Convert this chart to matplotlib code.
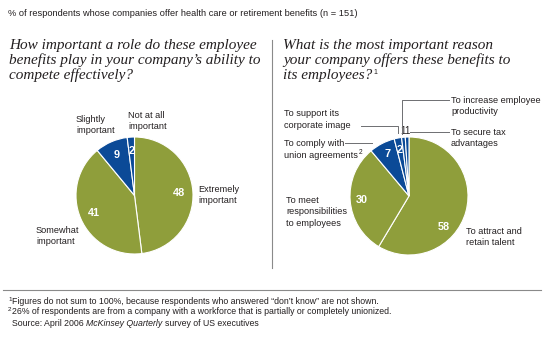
import matplotlib
matplotlib.use('Agg')
import matplotlib.pyplot as plt
import numpy as np

# ---------------- data ----------------
header = "% of respondents whose companies offer health care or retirement benefits (n = 151)"
q1_title = ["How important a role do these employee",
            "benefits play in your company\u2019s ability to",
            "compete effectively?"]
q1_labels = ["Extremely\nimportant", "Somewhat\nimportant", "Slightly\nimportant", "Not at all\nimportant"]
q1_values = [48, 41, 9, 2]

q2_title = ["What is the most important reason",
            "your company offers these benefits to",
            "its employees?"]
q2_labels = ["To attract and\nretain talent", "To meet\nresponsibilities\nto employees",
             "To comply with\nunion agreements", "To support its\ncorporate image",
             "To increase employee\nproductivity", "To secure tax\nadvantages"]
q2_values = [58, 30, 7, 2, 1, 1]

footnote1 = "Figures do not sum to 100%, because respondents who answered \u201cdon\u2019t know\u201d are not shown."
footnote2 = "26% of respondents are from a company with a workforce that is partially or completely unionized."
source = ["Source: April 2006", "McKinsey Quarterly", "survey of US executives"]

# ---------------- style ----------------
W, H = 545, 349
GREEN = '#8f9e3b'
BLUE = '#0b4a97'
TXT = '#231f20'
GRAY = '#8a8a8a'
SANS = ['Liberation Sans', 'DejaVu Sans']
SERIF = ['Liberation Serif', 'DejaVu Serif']

fig = plt.figure(figsize=(W / 100, H / 100), dpi=100)
fig.patch.set_facecolor('white')
ov = fig.add_axes([0, 0, 1, 1])
ov.set_xlim(0, W)
ov.set_ylim(H, 0)
ov.axis('off')
ov.set_zorder(5)

fig.canvas.draw()
R = fig.canvas.get_renderer()

def width_of(s, **kw):
    t = ov.text(0, 0, s, **kw)
    w = t.get_window_extent(renderer=R).width
    t.remove()
    return w

def fit_size(s, target, **kw):
    base = 10.0
    return base * target / width_of(s, fontsize=base, **kw)

LAB = fit_size("To increase employee", 89, family=SANS)
HDR = fit_size(header, 350, family=SANS)
FN = fit_size(footnote1, 366, family=SANS)

def stext(x, y, s, size, **kw):
    return ov.text(x, y, s, fontsize=size, family=SANS,
                   color=kw.pop('color', TXT), **kw)

# header
stext(8, 14, header, HDR, va='center')

# titles
TS = 11
for i, line in enumerate(q1_title):
    ov.text(9, 49 + 14.8 * i, line, family=SERIF, style='italic', fontsize=TS,
            color=TXT, va='baseline')
for i, line in enumerate(q2_title):
    ov.text(283, 49 + 14.8 * i, line, family=SERIF, style='italic', fontsize=TS,
            color=TXT, va='baseline')
lw = width_of(q2_title[-1], family=SERIF, style='italic', fontsize=TS)
stext(283 + lw + 1.5, 49 + 14.8 * 2 - 5, "1", 5, va='baseline')

# divider lines
ov.plot([272, 272], [40, 268], color=GRAY, lw=0.8)
ov.plot([3, 541], [290, 290], color=GRAY, lw=0.8)

# ---------------- pies ----------------
def pie_axes(cx, cy, r):
    return fig.add_axes([(cx - r) / W, 1 - (cy + r) / H, 2 * r / W, 2 * r / H])

def draw_pie(ax, values, colors):
    wedges, _ = ax.pie(values, colors=colors, startangle=90, counterclock=False,
                       wedgeprops=dict(edgecolor='white', linewidth=0.8))
    ax.set_xlim(-1, 1)
    ax.set_ylim(-1, 1)
    ax.axis('off')
    return wedges

def num(ax, w, s, r, ang=None, color='white', bold=True, size=7.8):
    a = np.deg2rad((w.theta1 + w.theta2) / 2 if ang is None else ang)
    ax.text(r * np.cos(a), r * np.sin(a), s, ha='center', va='center', fontsize=size,
            family=SANS, fontweight='bold' if bold else 'normal',
            color=color, clip_on=False)

ax1 = pie_axes(134.5, 195.5, 58.5)
w1 = draw_pie(ax1, q1_values, [GREEN, GREEN, BLUE, BLUE])
for w, v in zip(w1, q1_values):
    num(ax1, w, str(v), 0.76)

ax2 = pie_axes(409, 196, 59)
w2 = draw_pie(ax2, q2_values, [GREEN, GREEN, BLUE, BLUE, BLUE, BLUE])
num(ax2, w2[0], str(q2_values[0]), 0.79, ang=-41)
for w, v in zip(w2[1:4], q2_values[1:4]):
    num(ax2, w, str(v), 0.8)
for w, v in zip(w2[4:], q2_values[4:]):
    num(ax2, w, str(v), 1.11, color=TXT, bold=False, size=7)

# ---------------- category labels ----------------
LS = 1.3
stext(198, 195, q1_labels[0], LAB, va='center', linespacing=LS)
stext(36, 236, q1_labels[1], LAB, va='center', linespacing=LS)
stext(76, 125, q1_labels[2], LAB, va='center', linespacing=LS)
stext(128, 121, q1_labels[3], LAB, va='center', linespacing=LS)

stext(466, 237, q2_labels[0], LAB, va='center', linespacing=LS)
stext(286, 212, q2_labels[1], LAB, va='center', linespacing=LS)
stext(284, 149.5, q2_labels[2], LAB, va='center', linespacing=LS)
wu = width_of("union agreements", family=SANS, fontsize=LAB)
stext(284 + wu + 0.8, 153, "2", 4.8, va='center')
stext(284, 119.5, q2_labels[3], LAB, va='center', linespacing=LS)
stext(451, 106, q2_labels[4], LAB, va='center', linespacing=LS)
stext(451, 138, q2_labels[5], LAB, va='center', linespacing=LS)

# leader lines
LC = '#6d6e71'
ov.plot([402, 402, 449], [134, 100, 100], color=LC, lw=0.7)
ov.plot([410, 449], [132, 132], color=LC, lw=0.7)
ov.plot([361, 398, 398], [126, 126, 133], color=LC, lw=0.7)
ov.plot([345, 372], [143, 143], color=LC, lw=0.7)

# ---------------- footnotes ----------------
stext(8, 299.5, "1", 4.6, va='center')
stext(12, 302, footnote1, FN, va='center')
stext(8, 309.5, "2", 4.6, va='center')
stext(12, 312, footnote2, FN, va='center')
x = 12
fs = dict(fontsize=FN, family=SANS, color=TXT)
for s, extra in [(source[0], {}), (source[1], {'style': 'italic'}), (source[2], {})]:
    t = ov.text(x, 323, s, va='center', ha='left', **fs, **extra)
    x += t.get_window_extent(renderer=R).width + 2.5

fig.savefig('out.png', dpi=100, facecolor='white')
